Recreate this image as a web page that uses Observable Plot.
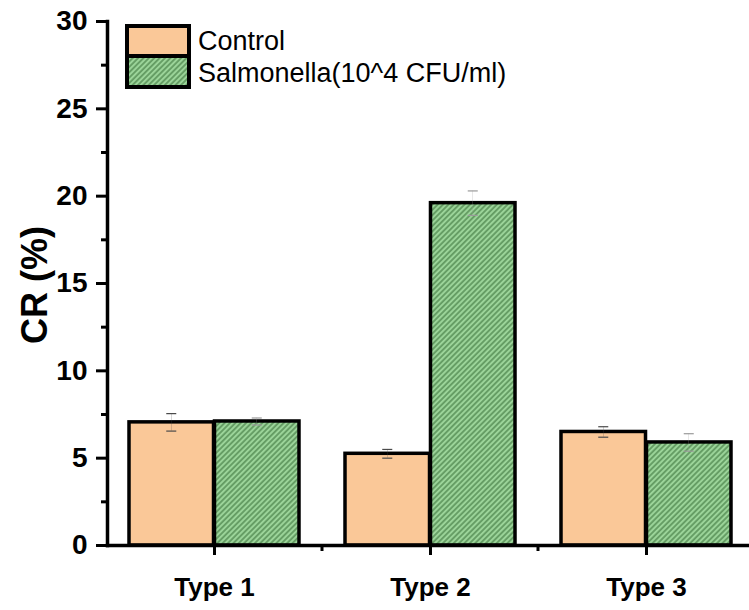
<!DOCTYPE html>
<html>
<head>
<meta charset="utf-8">
<script src="https://cdn.jsdelivr.net/npm/d3@7"></script>
<script src="https://cdn.jsdelivr.net/npm/@observablehq/plot@0.6"></script>
<style>
  body { margin: 0; background: #fff; }
  #chart svg { display: block; }
</style>
</head>
<body>
<div id="chart"></div>
<script>
const types = ["Type 1", "Type 2", "Type 3"];
const groups = ["Control", "Salmonella(10^4 CFU/ml)"];
const controlMean = [7.05, 5.25, 6.5];
const controlErr = [0.5, 0.25, 0.3];
const salmMean = [7.1, 19.6, 5.9];
const salmErr = [0.2, 0.7, 0.5];
const yTicks = [0, 5, 10, 15, 20, 25, 30];
const yMinor = [2.5, 7.5, 12.5, 17.5, 22.5, 27.5];
const yLabel = "CR (%)";

const control = types.map((t, i) => ({type: t, group: groups[0], mean: controlMean[i], err: controlErr[i]}));
const salm = types.map((t, i) => ({type: t, group: groups[1], mean: salmMean[i], err: salmErr[i]}));

const W = 749, H = 610;
const xRange = [107, 754];
const padIn = 0.212, padOut = 0.097;
const bw = d3.scaleBand().domain(types).range(xRange).paddingInner(padIn).paddingOuter(padOut).bandwidth();
const half = bw / 2;
const capW = 11, errW = 1.2;
const peach = "#FAC898";
const font = "Liberation Sans, Arial, Helvetica, sans-serif";

function errMarks(data, side, color) {
  const c = side === 0 ? half / 2 : half * 1.5; // center offset within band
  return [
    Plot.barY(data, {x: "type", y1: d => d.mean - d.err, y2: d => d.mean + d.err,
      fill: color, insetLeft: c - errW / 2, insetRight: bw - c - errW / 2}),
    Plot.tickY(data, {x: "type", y: d => d.mean + d.err, stroke: color, strokeWidth: 1.2,
      insetLeft: c - capW / 2, insetRight: bw - c - capW / 2}),
    Plot.tickY(data, {x: "type", y: d => d.mean - d.err, stroke: color, strokeWidth: 1.2,
      insetLeft: c - capW / 2, insetRight: bw - c - capW / 2})
  ];
}

const plot = Plot.plot({
  width: W,
  height: H,
  marginLeft: 107,
  marginRight: 0,
  marginTop: 21,
  marginBottom: 65,
  style: {fontFamily: font, background: "#fff", color: "#000"},
  x: {type: "band", domain: types, range: xRange, paddingInner: padIn, paddingOuter: padOut, label: null},
  y: {domain: [0, 30], label: null},
  marks: [
    Plot.barY(control, {x: "type", y: "mean", fill: peach, stroke: "#000", strokeWidth: 3.5, insetRight: half}),
    Plot.barY(salm, {x: "type", y: "mean", fill: "url(#hatch)", stroke: "#000", strokeWidth: 3.5, insetLeft: half}),
    ...errMarks(control, 0, "#4a4a4a"),
    ...errMarks(salm, 1, "#9a9a9a"),
    Plot.axisY({ticks: yMinor, tickSize: 6, strokeWidth: 3, tickFormat: () => "", label: null}),
    Plot.axisY({ticks: yTicks, tickSize: 11, tickPadding: 9, strokeWidth: 3, fontSize: 28, fontWeight: "bold", label: null}),
    Plot.axisX({tickSize: 10, tickPadding: 22, strokeWidth: 3, fontSize: 26, fontWeight: "bold", label: null}),
    Plot.frame({anchor: "left", strokeWidth: 3.5}),
    Plot.frame({anchor: "bottom", strokeWidth: 3.5})
  ]
});

const svg = d3.select(plot);
const defs = svg.insert("defs", ":first-child");
const pat = defs.append("pattern").attr("id", "hatch").attr("patternUnits", "userSpaceOnUse")
  .attr("width", 3.8).attr("height", 3.8).attr("patternTransform", "rotate(45)");
pat.append("rect").attr("width", 3.8).attr("height", 3.8).attr("fill", "#9BD499");
pat.append("line").attr("x1", 1.9).attr("y1", -1).attr("x2", 1.9).attr("y2", 5)
  .attr("stroke", "#2a602a").attr("stroke-width", 0.9);

// minor x ticks between groups, from Plot's own x scale
const xs = plot.scale("x");
const yBase = H - 65;
for (let i = 0; i < types.length - 1; i++) {
  const a = xs.apply(types[i]) + xs.bandwidth;
  const b = xs.apply(types[i + 1]);
  const m = (a + b) / 2;
  svg.append("line").attr("x1", m).attr("x2", m).attr("y1", yBase).attr("y2", yBase + 6)
    .attr("stroke", "#000").attr("stroke-width", 3);
}

// y axis title
svg.append("text").attr("transform", "translate(47,285) rotate(-90)")
  .attr("text-anchor", "middle").attr("font-size", 36).attr("font-weight", "bold")
  .attr("font-family", font).attr("fill", "#000").text(yLabel);

// legend (inside the plot, top-left)
const lg = svg.append("g").attr("text-anchor", "start");
lg.append("rect").attr("x", 127).attr("y", 26).attr("width", 62).attr("height", 30)
  .attr("fill", peach).attr("stroke", "#000").attr("stroke-width", 4);
lg.append("rect").attr("x", 127).attr("y", 56).attr("width", 62).attr("height", 31)
  .attr("fill", "url(#hatch)").attr("stroke", "#000").attr("stroke-width", 4);
lg.append("text").attr("x", 198).attr("y", 50).attr("font-size", 27).attr("font-family", font)
  .attr("text-anchor", "start").attr("fill", "#000").text(groups[0]);
lg.append("text").attr("x", 198).attr("y", 82).attr("font-size", 27).attr("font-family", font)
  .attr("text-anchor", "start").attr("fill", "#000").text(groups[1]);

document.getElementById("chart").appendChild(plot);
</script>
</body>
</html>
